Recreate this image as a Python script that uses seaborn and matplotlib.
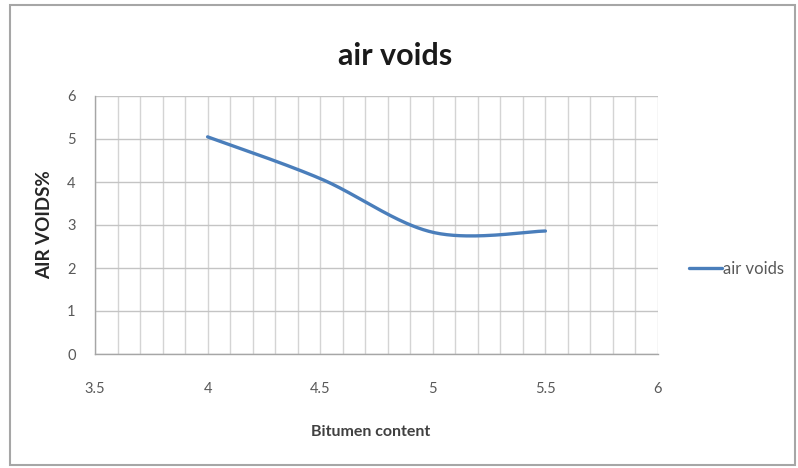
import numpy as np
import pandas as pd
import matplotlib
matplotlib.use("Agg")
import matplotlib.pyplot as plt
import seaborn as sns
from matplotlib.patches import Rectangle

# Marshall test results
bitumen_content = [4.0, 4.5, 5.0, 5.5]
air_voids = [5.05, 4.08, 2.83, 2.86]
series_name = "air voids"
x_ticks = [3.5, 4, 4.5, 5, 5.5, 6]
x_tick_labels = ["3.5", "4", "4.5", "5", "5.5", "6"]
y_ticks = [0, 1, 2, 3, 4, 5, 6]


def smooth_curve(xs, ys, n=60):
    """Spreadsheet-style smoothed line: cubic Bezier segments with
    Catmull-Rom control points (tension 1/6)."""
    p = np.column_stack([xs, ys]).astype(float)
    ext = np.vstack([p[0], p, p[-1]])
    out = []
    t = np.linspace(0, 1, n)[:, None]
    for i in range(len(p) - 1):
        p0, p1 = ext[i + 1], ext[i + 2]
        c1 = p0 + (ext[i + 2] - ext[i]) / 6.0
        c2 = p1 - (ext[i + 3] - ext[i + 1]) / 6.0
        seg = ((1 - t) ** 3) * p0 + 3 * ((1 - t) ** 2) * t * c1 \
            + 3 * (1 - t) * t ** 2 * c2 + t ** 3 * p1
        out.append(seg if i == 0 else seg[1:])
    out = np.vstack(out)
    return out[:, 0], out[:, 1]


sns.set_theme(style="white")
plt.rcParams["font.family"] = ["Lato", "DejaVu Sans"]

fig = plt.figure(figsize=(7.98, 4.68), dpi=100)
fig.patch.set_facecolor("white")
fig.patches.append(Rectangle((10 / 798, 3 / 468), 785 / 798, 460 / 468,
                             transform=fig.transFigure, fill=False,
                             edgecolor="#a6a6a6", linewidth=1.5))

ax = fig.add_axes([95 / 798, (468 - 354) / 468, 563 / 798, 258 / 468])

sx, sy = smooth_curve(bitumen_content, air_voids)
curve = pd.DataFrame({"Bitumen content": sx, series_name: sy})
sns.lineplot(data=curve, x="Bitumen content", y=series_name, sort=False,
             ax=ax, color="#4a7ebb", linewidth=2.4, label=series_name,
             solid_capstyle="round")

ax.set_xlim(3.5, 6)
ax.set_ylim(0, 6)
ax.set_xticks(x_ticks)
ax.set_xticklabels(x_tick_labels)
ax.set_yticks(y_ticks)
ax.set_xticks(np.arange(3.5, 6.001, 0.1), minor=True)

ax.grid(which="minor", axis="x", color="#d4d4d4", linewidth=1.0)
ax.grid(which="major", axis="x", color="#d4d4d4", linewidth=1.0)
ax.grid(which="major", axis="y", color="#c4c4c4", linewidth=1.0)
ax.set_axisbelow(True)

for side in ["top", "right"]:
    ax.spines[side].set_visible(False)
for side in ["left", "bottom"]:
    ax.spines[side].set_color("#a6a6a6")
    ax.spines[side].set_linewidth(1.0)

ax.tick_params(axis="both", which="major", direction="out", length=5,
               width=1.0, color="#a6a6a6", labelsize=10.5,
               labelcolor="#595959")
ax.tick_params(axis="x", which="major", pad=15)
ax.tick_params(axis="y", which="major", pad=9)
ax.tick_params(axis="x", which="minor", length=0)

ax.set_xlabel("Bitumen content", fontsize=11.5, fontweight="bold",
              color="#404040", va="center")
ax.xaxis.set_label_coords(0.49, (354 - 432) / 258)
ax.set_ylabel("AIR VOIDS%", fontsize=13.5, fontweight="bold",
              color="#262626", va="center")
ax.yaxis.set_label_coords(-50 / 563, 0.5)

fig.text(395 / 798, 1 - 65 / 468, "air voids", ha="center", va="baseline",
         fontsize=22, fontweight="bold", color="#1a1a1a")

ax.legend(loc="center left", bbox_to_anchor=(1.028, 0.33), frameon=False,
          fontsize=12, handlelength=2.0, handletextpad=0.05,
          labelcolor="#595959")

fig.savefig("out.png", dpi=100, facecolor="white")
